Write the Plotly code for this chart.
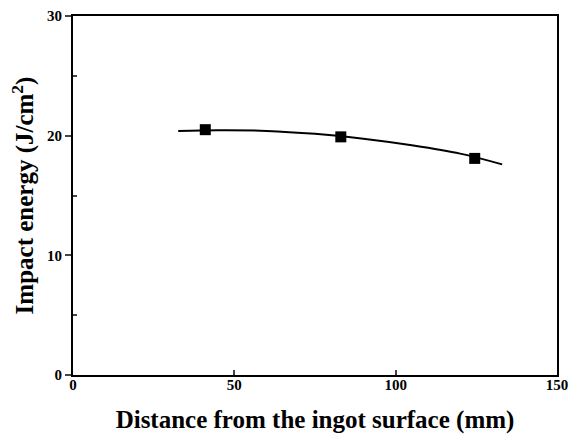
import plotly.graph_objects as go

# measured points
dist_mm = [41, 83, 124.5]
impact_energy = [20.5, 19.9, 18.1]

# fitted curve
fit_x = [32.6, 45, 60, 75, 90, 105, 120, 133]
fit_y = [20.38, 20.45, 20.4, 20.15, 19.75, 19.2, 18.5, 17.6]

x_ticks = [0, 50, 100, 150]
y_ticks = [0, 10, 20, 30]

FONT = "Liberation Serif"

fig = go.Figure()
fig.add_trace(go.Scatter(x=fit_x, y=fit_y, mode="lines",
                         line=dict(color="black", width=2, shape="spline", smoothing=1.0),
                         hoverinfo="skip", showlegend=False))
fig.add_trace(go.Scatter(x=dist_mm, y=impact_energy, mode="markers",
                         marker=dict(symbol="square", size=11, color="black"),
                         showlegend=False))

fig.update_layout(
    width=569, height=437,
    margin=dict(l=73, r=12, t=16, b=62),
    paper_bgcolor="white", plot_bgcolor="white",
    font=dict(family=FONT, color="black"),
    xaxis=dict(range=[0, 150], tickvals=x_ticks, ticks="inside", ticklen=5, tickwidth=1.5,
               automargin=False, ticklabelstandoff=-5,
               showline=True, linecolor="black", linewidth=2, mirror=True,
               showgrid=False, zeroline=False,
               tickfont=dict(family=FONT, size=15, color="black", weight="bold"),
               title=dict(text="Distance from the ingot surface (mm)", standoff=18,
                          font=dict(family=FONT, size=25, color="black", weight="bold"))),
    yaxis=dict(range=[0, 30], tickvals=y_ticks, ticks="outside", ticklen=6, tickwidth=1.5,
               automargin=False,
               showline=True, linecolor="black", linewidth=2, mirror=True,
               showgrid=False, zeroline=False,
               minor=dict(tickvals=[5, 15, 25], ticks="inside", ticklen=4, tickwidth=1.5, showgrid=False),
               tickfont=dict(family=FONT, size=15, color="black", weight="bold"),
               title=dict(text="Impact energy (J/cm<sup>2</sup>)", standoff=6,
                          font=dict(family=FONT, size=25, color="black", weight="bold"))),
)

fig.write_html("out.html")
